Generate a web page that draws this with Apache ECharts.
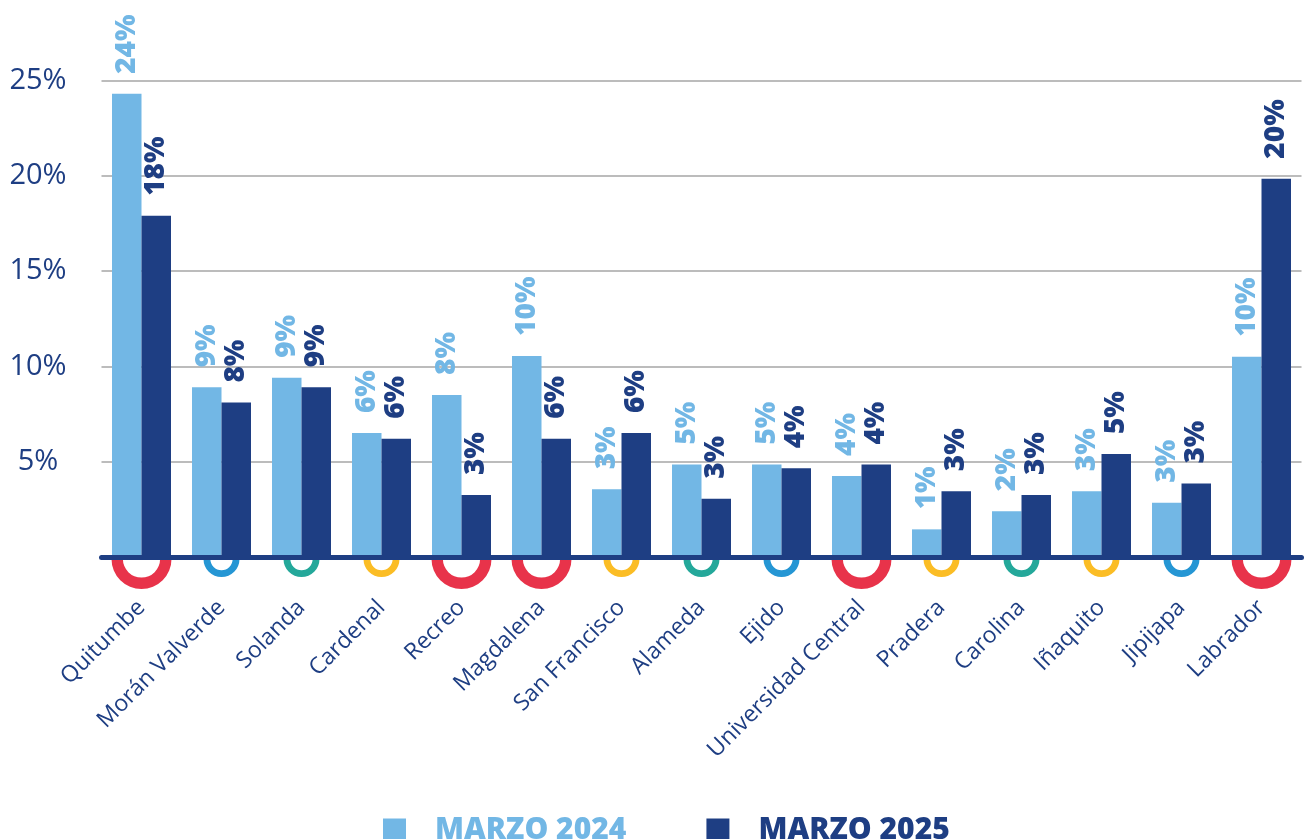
<!DOCTYPE html>
<html>
<head>
<meta charset="utf-8">
<script src="https://cdn.jsdelivr.net/npm/echarts@6/dist/echarts.min.js"></script>
<style>
  html, body { margin: 0; padding: 0; background: #fff; }
  #main { width: 1308px; height: 839px; }
</style>
</head>
<body>
<div id="main"></div>
<script>
// estaciones del metro
const stations = ['Quitumbe', 'Morán Valverde', 'Solanda', 'Cardenal', 'Recreo', 'Magdalena',
  'San Francisco', 'Alameda', 'Ejido', 'Universidad Central', 'Pradera', 'Carolina',
  'Iñaquito', 'Jipijapa', 'Labrador']
const marzo2024 = [24.3, 8.9, 9.4, 6.5, 8.5, 10.55, 3.55, 4.85, 4.85, 4.25, 1.45, 2.4, 3.45, 2.85, 10.5]
const marzo2025 = [17.9, 8.1, 8.9, 6.2, 3.25, 6.2, 6.5, 3.05, 4.65, 4.85, 3.45, 3.25, 5.4, 3.85, 19.85]
const labels2024 = [24, 9, 9, 6, 8, 10, 3, 5, 5, 4, 1, 2, 3, 3, 10]
const labels2025 = [18, 8, 9, 6, 3, 6, 6, 3, 4, 4, 3, 3, 5, 3, 20]
// tipo de estación: 'big' = terminal/transferencia, otras = color del anillo
const stationType = ['big', 'blue', 'green', 'yellow', 'big', 'big', 'yellow', 'green', 'blue',
  'big', 'yellow', 'green', 'yellow', 'blue', 'big']
const yTicks = [0, 5, 10, 15, 20, 25]

const LIGHT = '#72b7e5'
const DARK = '#1e3e83'
const ringColors = { big: '#e8334a', blue: '#2596d4', green: '#24a89a', yellow: '#fbbd25' }

// media rosca (anillo inferior)
const ringPath = 'path://M0,0 A50,50 0 0 0 100,0 L81,0 A31,31 0 0 1 19,0 Z'

function valueLabel(labels, color) {
  return {
    show: true,
    position: 'top',
    rotate: 90,
    align: 'left',
    verticalAlign: 'middle',
    distance: 20,
    color: color,
    fontFamily: 'Open Sans',
    fontWeight: 800,
    fontSize: 28,
    formatter: p => labels[p.dataIndex] + '%'
  }
}

const option = {
  animation: false,
  grid: { left: 101.5, right: 6.5, top: 80.5, bottom: 282 },
  legend: {
    left: 378,
    top: 810,
    itemWidth: 23,
    itemHeight: 23,
    itemGap: 80,
    icon: 'rect',
    data: [
      { name: 'MARZO 2024', textStyle: { color: LIGHT } },
      { name: 'MARZO 2025', textStyle: { color: DARK } }
    ],
    textStyle: {
      fontFamily: 'Open Sans',
      fontWeight: 800,
      fontSize: 30,
      padding: [0, 0, 0, 24]
    }
  },
  xAxis: {
    type: 'category',
    data: stations,
    z: 3,
    axisLine: { lineStyle: { color: DARK, width: 5, cap: 'round' } },
    axisTick: { show: false },
    axisLabel: {
      interval: 0,
      rotate: 45,
      margin: 47,
      color: DARK,
      fontFamily: 'Open Sans',
      fontWeight: 500,
      fontSize: 23
    }
  },
  yAxis: {
    type: 'value',
    min: yTicks[0],
    max: yTicks[yTicks.length - 1],
    interval: 5,
    axisLine: { show: false },
    axisTick: { show: false },
    splitLine: { lineStyle: { color: '#a6a6a6', width: 1.5 } },
    axisLabel: {
      align: 'center',
      margin: 63.5,
      padding: [0, 0, 6, 0],
      color: DARK,
      fontFamily: 'Open Sans',
      fontSize: 29,
      formatter: v => (v === 0 ? '' : v + '%')
    }
  },
  series: [
    {
      name: 'MARZO 2024',
      type: 'bar',
      data: marzo2024,
      barWidth: 29.5,
      barGap: '0%',
      itemStyle: { color: LIGHT },
      label: valueLabel(labels2024, LIGHT),
      z: 2
    },
    {
      name: 'MARZO 2025',
      type: 'bar',
      data: marzo2025,
      barWidth: 29.5,
      itemStyle: { color: DARK },
      label: valueLabel(labels2025, DARK),
      z: 2
    },
    {
      name: 'anillos',
      type: 'scatter',
      data: stations.map(() => 0),
      clip: false,
      z: 1,
      silent: true,
      symbol: ringPath,
      symbolSize: (v, p) => (stationType[p.dataIndex] === 'big' ? [60, 30] : [36, 18]),
      symbolOffset: (v, p) => (stationType[p.dataIndex] === 'big' ? [0, 17] : [0, 11]),
      itemStyle: {
        opacity: 1,
        color: p => ringColors[stationType[p.dataIndex]]
      }
    }
  ]
}

const chart = echarts.init(document.getElementById('main'))
chart.setOption(option)
</script>
</body>
</html>
